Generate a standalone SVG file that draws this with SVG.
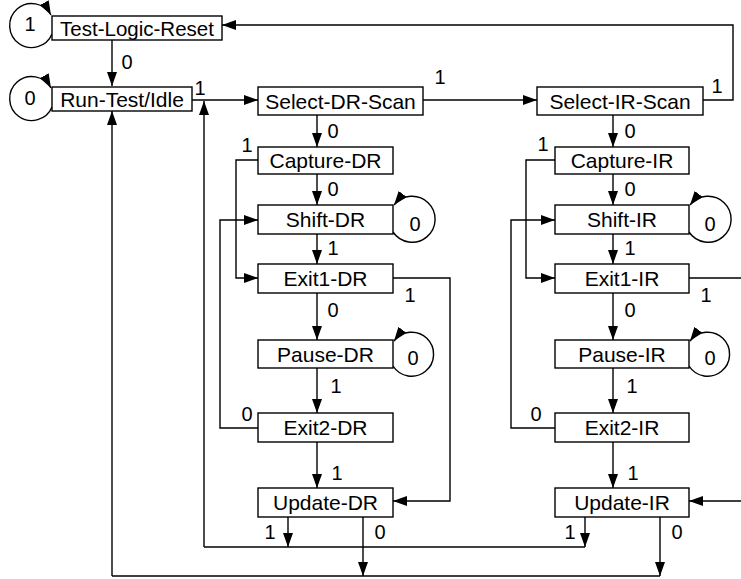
<svg xmlns="http://www.w3.org/2000/svg" width="741" height="579" viewBox="0 0 741 579">
<style>
  .box{fill:#fff;stroke:#000;stroke-width:1.4}
  .t{font-family:"Liberation Sans",Arial,sans-serif;font-size:21px;text-anchor:middle;fill:#000}
  .l{font-family:"Liberation Sans",Arial,sans-serif;font-size:20px;text-anchor:middle;fill:#000}
  .c{fill:none;stroke:#000;stroke-width:1.4}
  .a{fill:none;stroke:#000;stroke-width:1.4;marker-end:url(#ah)}
</style>
<defs>
  <marker id="ah" markerUnits="userSpaceOnUse" markerWidth="15" markerHeight="10" refX="14" refY="5" orient="auto">
    <path d="M0,0 L14,5 L0,10 z" fill="#000"/>
  </marker>
</defs>
<rect width="741" height="579" fill="#fff"/>
<g id="connectors">
  <path class="a" d="M112,40 V86"/>
  <path class="a" d="M192,100 H258"/>
  <path class="a" d="M423,100 H537"/>
  <path class="a" d="M703,100 H733 V25 H222"/>
  <path class="a" d="M317,115 V147"/>
  <path class="a" d="M317,174 V205"/>
  <path class="a" d="M258,160 H236 V278 H258"/>
  <path class="a" d="M317,234 V264"/>
  <path class="a" d="M317,293 V340"/>
  <path class="a" d="M393,278 H450 V501 H393"/>
  <path class="a" d="M317,368 V413"/>
  <path class="a" d="M258,428 H220 V220 H258"/>
  <path class="a" d="M317,442 V488"/>
  <path class="a" d="M288,517 V547"/>
  <path class="a" d="M363,517 V576"/>
  <path class="a" d="M613,115 V147"/>
  <path class="a" d="M613,174 V205"/>
  <path class="a" d="M555,160 H526 V278 H555"/>
  <path class="a" d="M613,234 V264"/>
  <path class="a" d="M613,293 V340"/>
  <path class="a" d="M689,278 H746 V501 H689"/>
  <path class="a" d="M613,368 V413"/>
  <path class="a" d="M555,428 H511 V220 H555"/>
  <path class="a" d="M613,442 V488"/>
  <path class="a" d="M585,517 V547"/>
  <path class="a" d="M660,517 V576"/>
  <path class="c" d="M204,547 H585"/>
  <path class="a" d="M204,547 V101"/>
  <path class="c" d="M112,576 H660"/>
  <path class="a" d="M112,576 V111"/>
  <path class="a" d="M52,34 A22 22 0 1 1 51,15"/>
  <path class="a" d="M52,107 A22 22 0 1 1 51,88"/>
  <path class="a" d="M393,232 A23 23 0 1 0 394,205"/>
  <path class="a" d="M393,366 A22 22 0 1 0 394,341"/>
  <path class="a" d="M689,232 A23 23 0 1 0 690,205"/>
  <path class="a" d="M689,366 A22 22 0 1 0 690,341"/>
</g>
<g id="labels">
  <text class="l" x="30" y="31">1</text>
  <text class="l" x="30" y="105">0</text>
  <text class="l" x="127" y="69">0</text>
  <text class="l" x="200" y="95">1</text>
  <text class="l" x="440" y="84">1</text>
  <text class="l" x="717" y="93">1</text>
  <text class="l" x="333" y="138">0</text>
  <text class="l" x="247" y="152">1</text>
  <text class="l" x="333" y="196">0</text>
  <text class="l" x="415" y="231">0</text>
  <text class="l" x="333" y="255">1</text>
  <text class="l" x="410" y="302">1</text>
  <text class="l" x="333" y="317">0</text>
  <text class="l" x="413" y="365">0</text>
  <text class="l" x="336" y="393">1</text>
  <text class="l" x="247" y="421">0</text>
  <text class="l" x="337" y="480">1</text>
  <text class="l" x="270" y="539">1</text>
  <text class="l" x="380" y="539">0</text>
  <text class="l" x="630" y="138">0</text>
  <text class="l" x="543" y="151">1</text>
  <text class="l" x="630" y="196">0</text>
  <text class="l" x="710" y="231">0</text>
  <text class="l" x="630" y="255">1</text>
  <text class="l" x="706" y="302">1</text>
  <text class="l" x="630" y="317">0</text>
  <text class="l" x="710" y="365">0</text>
  <text class="l" x="632" y="393">1</text>
  <text class="l" x="536" y="421">0</text>
  <text class="l" x="633" y="480">1</text>
  <text class="l" x="570" y="539">1</text>
  <text class="l" x="677" y="539">0</text>
</g>
<g id="test-logic-reset"><rect class="box" x="52" y="16" width="170" height="24"/><text class="t" x="137" y="35.5" style="font-size:20.5px">Test-Logic-Reset</text></g>
<g id="run-test-idle"><rect class="box" x="52" y="87" width="140" height="24"/><text class="t" x="122" y="106.5">Run-Test/Idle</text></g>
<g id="select-dr-scan"><rect class="box" x="258" y="87" width="165" height="28"/><text class="t" x="340.5" y="108.5">Select-DR-Scan</text></g>
<g id="capture-dr"><rect class="box" x="258" y="147" width="135" height="27"/><text class="t" x="325.5" y="168">Capture-DR</text></g>
<g id="shift-dr"><rect class="box" x="258" y="205" width="135" height="29"/><text class="t" x="325.5" y="227">Shift-DR</text></g>
<g id="exit1-dr"><rect class="box" x="258" y="264" width="135" height="29"/><text class="t" x="325.5" y="286">Exit1-DR</text></g>
<g id="pause-dr"><rect class="box" x="258" y="340" width="135" height="28"/><text class="t" x="325.5" y="361.5">Pause-DR</text></g>
<g id="exit2-dr"><rect class="box" x="258" y="413" width="135" height="29"/><text class="t" x="325.5" y="435">Exit2-DR</text></g>
<g id="update-dr"><rect class="box" x="258" y="488" width="135" height="29"/><text class="t" x="325.5" y="510">Update-DR</text></g>
<g id="select-ir-scan"><rect class="box" x="537" y="87" width="166" height="28"/><text class="t" x="620" y="108.5">Select-IR-Scan</text></g>
<g id="capture-ir"><rect class="box" x="555" y="147" width="134" height="27"/><text class="t" x="622" y="168">Capture-IR</text></g>
<g id="shift-ir"><rect class="box" x="555" y="205" width="134" height="29"/><text class="t" x="622" y="227">Shift-IR</text></g>
<g id="exit1-ir"><rect class="box" x="555" y="264" width="134" height="29"/><text class="t" x="622" y="286">Exit1-IR</text></g>
<g id="pause-ir"><rect class="box" x="555" y="340" width="134" height="28"/><text class="t" x="622" y="361.5">Pause-IR</text></g>
<g id="exit2-ir"><rect class="box" x="555" y="413" width="134" height="29"/><text class="t" x="622" y="435">Exit2-IR</text></g>
<g id="update-ir"><rect class="box" x="555" y="488" width="134" height="29"/><text class="t" x="622" y="510">Update-IR</text></g>
</svg>
